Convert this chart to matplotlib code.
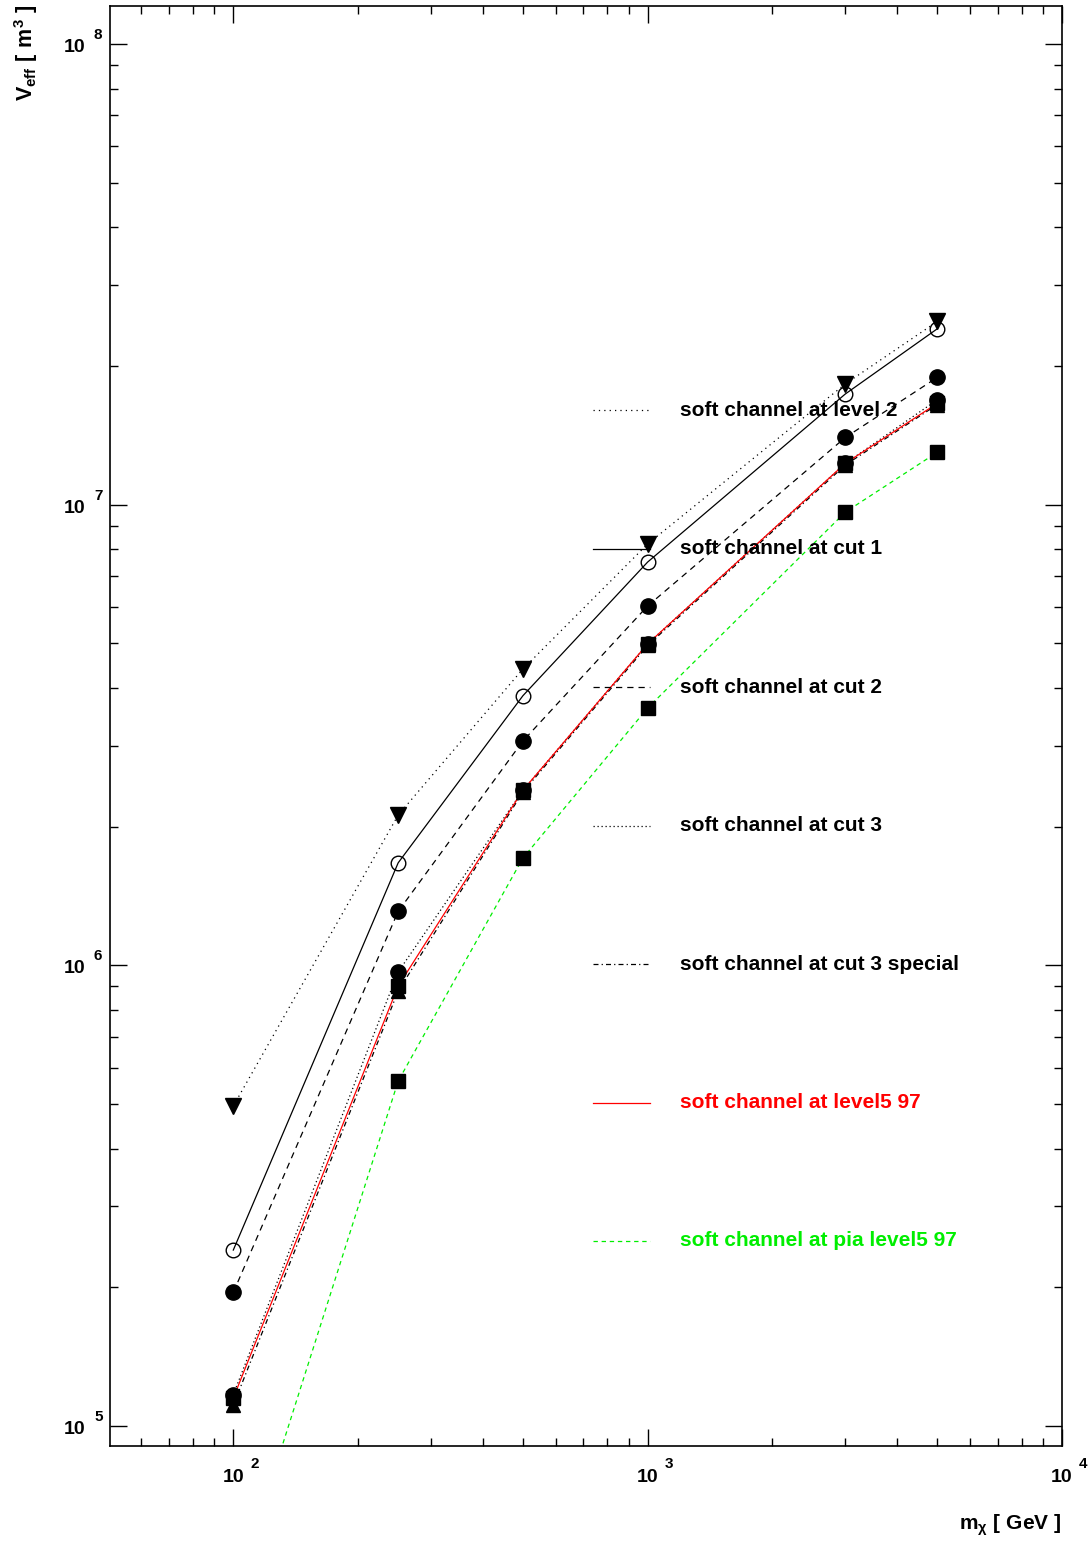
#!/usr/bin/env python3
"""Effective volume vs neutralino mass, soft channel at several cut levels."""

import math

import matplotlib
matplotlib.use("Agg")
import matplotlib.pyplot as plt
import matplotlib.transforms as mtransforms
from matplotlib.lines import Line2D
from matplotlib.ticker import LogLocator, NullFormatter

plt.rcParams["font.family"] = ["Liberation Sans", "DejaVu Sans"]
plt.rcParams["font.weight"] = "bold"
plt.rcParams["mathtext.fontset"] = "custom"
plt.rcParams["mathtext.rm"] = "Liberation Sans:bold"
plt.rcParams["mathtext.it"] = "Liberation Sans:bold"
plt.rcParams["mathtext.bf"] = "Liberation Sans:bold"

# neutralino masses [GeV]
mass = [100, 250, 500, 1000, 3000, 5000]

# effective volumes [m^3]
veff_level2 = [4.95e5, 2.12e6, 4.40e6, 8.22e6, 1.83e7, 2.50e7]
veff_cut1 = [2.41e5, 1.67e6, 3.85e6, 7.51e6, 1.74e7, 2.41e7]
veff_cut2 = [1.95e5, 1.31e6, 3.07e6, 6.03e6, 1.40e7, 1.89e7]
veff_cut3 = [1.17e5, 9.68e5, 2.40e6, 4.99e6, 1.23e7, 1.69e7]
veff_cut3_special = [1.11e5, 8.80e5, 2.38e6, 4.95e6, 1.22e7, 1.65e7]
veff_level5_97 = [1.15e5, 9.02e5, 2.40e6, 4.99e6, 1.23e7, 1.66e7]
veff_pia_level5_97 = [4.2e4, 5.61e5, 1.71e6, 3.62e6, 9.64e6, 1.30e7]

x_ticks = [1e2, 1e3, 1e4]
y_ticks = [1e5, 1e6, 1e7, 1e8]

labels = [
    "soft channel at level 2",
    "soft channel at cut 1",
    "soft channel at cut 2",
    "soft channel at cut 3",
    "soft channel at cut 3 special",
    "soft channel at level5 97",
    "soft channel at pia level5 97",
]


def root_tick_labels(fig, ax):
    "ROOT style '10' with a raised exponent, drawn as two texts per tick."
    xt = ax.get_xaxis_transform()
    yt = ax.get_yaxis_transform()
    for val in x_ticks:
        exp = int(round(math.log10(val)))
        ax.text(val, 0, "10", ha="center", va="baseline", fontsize=14,
                transform=mtransforms.offset_copy(xt, fig=fig, x=0, y=-36, units="dots"),
                clip_on=False)
        ax.text(val, 0, str(exp), ha="left", va="baseline", fontsize=11,
                transform=mtransforms.offset_copy(xt, fig=fig, x=17, y=-22, units="dots"),
                clip_on=False)
    for val in y_ticks:
        exp = int(round(math.log10(val)))
        ax.text(0, val, "10", ha="right", va="baseline", fontsize=14,
                transform=mtransforms.offset_copy(yt, fig=fig, x=-25, y=-8, units="dots"),
                clip_on=False)
        ax.text(0, val, str(exp), ha="left", va="baseline", fontsize=11,
                transform=mtransforms.offset_copy(yt, fig=fig, x=-16, y=5, units="dots"),
                clip_on=False)


def main():
    fig = plt.figure(figsize=(10.89, 15.43), dpi=100)
    ax = fig.add_axes([110 / 1089, 1 - 1446 / 1543, 952 / 1089, 1440 / 1543])

    series = [
        # values, line colour, line style, marker, marker size, marker face
        (veff_level2, "black", (0, (1, 3.3)), "v", 11, "black"),
        (veff_cut1, "black", "-", "o", 10.5, "none"),
        (veff_cut2, "black", (0, (5, 4)), "o", 11, "black"),
        (veff_cut3, "black", (0, (1, 2.2)), "o", 11, "black"),
        (veff_cut3_special, "black", (0, (4, 2.5, 1, 2.5)), "^", 10, "black"),
        (veff_level5_97, "#ff0000", "-", "s", 10.5, "black"),
        (veff_pia_level5_97, "#00ee00", (0, (3.5, 3)), "s", 10.5, "black"),
    ]

    # lines first, markers on top
    for values, color, ls, *_ in series:
        ax.plot(mass, values, color=color, ls=ls, lw=0.9, zorder=2)
    for i, (values, color, ls, marker, ms, mfc) in enumerate(series):
        ax.plot(mass, values, ls="none", marker=marker, ms=ms,
                mfc=mfc, mec="black", mew=1.0, zorder=3 + i)

    ax.set_xscale("log")
    ax.set_yscale("log")
    ax.set_xlim(50.4, 1e4)
    ax.set_ylim(9.05e4, 1.21e8)

    for axis in (ax.xaxis, ax.yaxis):
        axis.set_major_locator(LogLocator(base=10, numticks=10))
        axis.set_minor_locator(LogLocator(base=10, subs=range(2, 10), numticks=50))
        axis.set_major_formatter(NullFormatter())
        axis.set_minor_formatter(NullFormatter())

    ax.tick_params(which="both", direction="in", top=True, right=True, width=1.0)
    ax.tick_params(which="major", length=12)
    ax.tick_params(which="minor", length=6)
    for spine in ax.spines.values():
        spine.set_linewidth(1.2)

    root_tick_labels(fig, ax)

    fig.text(26 / 1089, 1 - 4 / 1543, r"$V_{eff}\ [\ m^{3}\ ]$",
             rotation=90, ha="center", va="top", fontsize=15.5)
    fig.text(1062 / 1089, 1 - 1530 / 1543, r"$m_{\chi}\ [\ GeV\ ]$",
             ha="right", va="baseline", fontsize=15)

    # hand-drawn legend, ROOT style with wide row spacing
    text_colors = ["black"] * 5 + ["#ff0000", "#00ee00"]
    for i, (label, (values, color, ls, *_)) in enumerate(zip(labels, series)):
        y_pix = 410 + 138.5 * i
        yf = (1446 - y_pix) / 1440
        ax.add_line(Line2D([0.507, 0.567], [yf, yf], transform=ax.transAxes,
                           color=color, ls=ls, lw=0.9))
        ax.text(0.599, yf, label, transform=ax.transAxes, va="center",
                ha="left", fontsize=15, fontweight="bold",
                color=text_colors[i], zorder=20)

    fig.savefig("out.png", dpi=100)


if __name__ == "__main__":
    main()
